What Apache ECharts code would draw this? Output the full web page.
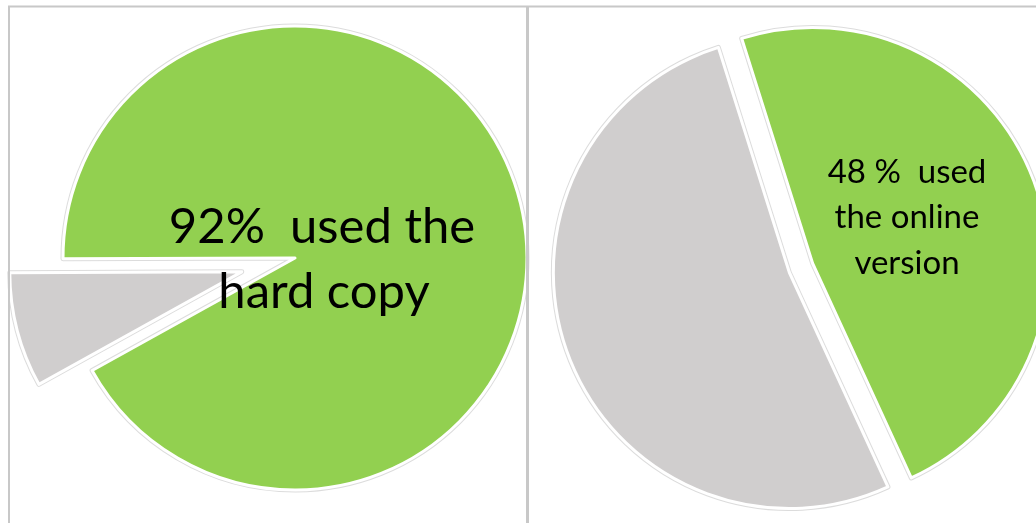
<!DOCTYPE html>
<html>
<head>
<meta charset="utf-8">
<script src="https://cdn.jsdelivr.net/npm/echarts@6/dist/echarts.min.js"></script>
<style>
html,body{margin:0;padding:0;background:#fff;}
#c{width:1036px;height:523px;}
</style>
</head>
<body>
<div id="c"></div>
<script>
// Data
const leftCategories = ['Other', 'Hard copy'];
const leftValues = [8, 92];
const leftSelected = [true, false];
const rightCategories = ['Online version', 'Other'];
const rightValues = [48, 52];
const rightSelected = [true, true];
const leftLabelLines = ['92%  used the', 'hard copy'];
const rightLabelLines = ['48 %  used', 'the online', 'version'];

const GREEN = '#92D050';
const GRAY = '#D0CECE';

function mkData(cats, vals, sel, colors) {
  return cats.map((c, i) => ({ name: c, value: vals[i], selected: sel[i], itemStyle: { color: colors[i] } }));
}

function pieLayer(center, radius, startAngle, offset, data, border, bw, z) {
  return {
    type: 'pie', center: center, radius: radius, startAngle: startAngle,
    clockwise: true, selectedMode: 'multiple', selectedOffset: offset,
    label: { show: false }, labelLine: { show: false }, silent: true,
    emphasis: { disabled: true },
    itemStyle: { borderColor: border, borderWidth: bw },
    select: { itemStyle: { borderColor: border, borderWidth: bw } },
    data: data, z: z
  };
}

const leftData = mkData(leftCategories, leftValues, leftSelected, [GRAY, GREEN]);
const rightData = mkData(rightCategories, rightValues, rightSelected, [GREEN, GRAY]);

const LC = [295, 258], LR = 232, LS = 209, LO = 55;
const RC = [801, 268], RR = 236, RS = 107.5, RO = 12.5;

function txt(s, x, y, size) {
  return { type: 'text', x: x, y: y, z: 20, style: { text: s, font: size + 'px Lato', fill: '#000', align: 'center', verticalAlign: 'top' } };
}

const chart = echarts.init(document.getElementById('c'), null, { renderer: 'canvas' });
chart.setOption({
  animation: false,
  backgroundColor: '#fff',
  series: [
    pieLayer(LC, LR, LS, LO, leftData, '#dcdcdc', 5, 1),
    pieLayer(LC, LR, LS, LO, leftData, '#ffffff', 3, 2),
    pieLayer(RC, RR, RS, RO, rightData, '#dcdcdc', 5, 1),
    pieLayer(RC, RR, RS, RO, rightData, '#ffffff', 3, 2)
  ],
  graphic: [
    { type: 'line', shape: { x1: 8, y1: 6.5, x2: 1036, y2: 6.5 }, style: { stroke: '#c8c8c8', lineWidth: 2 }, z: 10 },
    { type: 'line', shape: { x1: 9, y1: 6, x2: 9, y2: 523 }, style: { stroke: '#c8c8c8', lineWidth: 2 }, z: 10 },
    { type: 'line', shape: { x1: 527.5, y1: 6, x2: 527.5, y2: 523 }, style: { stroke: '#c8c8c8', lineWidth: 3 }, z: 10 },
    txt(leftLabelLines[0], 322, 203, 49),
    txt(leftLabelLines[1], 324, 268, 49),
    txt(rightLabelLines[0], 907, 156, 33),
    txt(rightLabelLines[1], 907, 201, 33),
    txt(rightLabelLines[2], 907, 247, 33)
  ]
});
</script>
</body>
</html>
